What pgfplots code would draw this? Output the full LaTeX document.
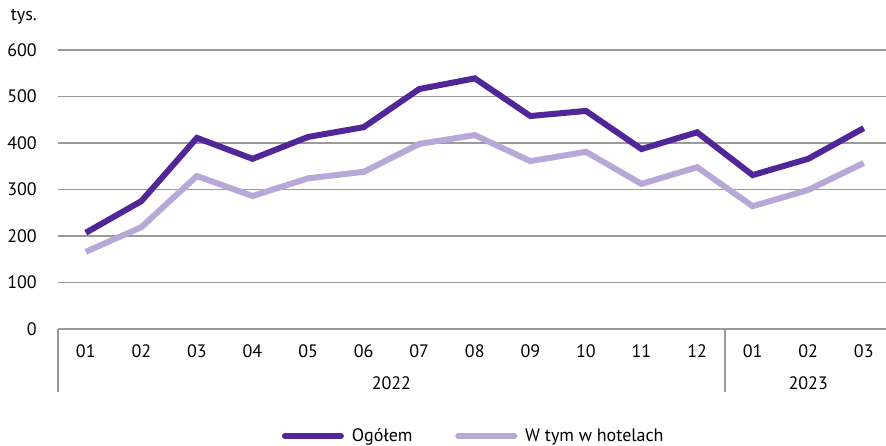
\documentclass[border=0pt]{standalone}
\usepackage{fontspec}
\setmainfont{PT Sans}
\usepackage{pgfplots}
\pgfplotsset{compat=1.18}
\definecolor{darkpurple}{HTML}{512699}
\definecolor{lightpurple}{HTML}{B9A7D7}
\definecolor{gridgray}{HTML}{9A9A9A}

\pgfplotstableread{
x ogolem hotele
0 207 166
1 275 219
2 411 329
3 366 286
4 413 324
5 434 338
6 516 398
7 539 417
8 458 361
9 469 381
10 387 312
11 423 348
12 331 264
13 366 299
14 432 357
}\dane

\begin{document}
\begin{tikzpicture}
\useasboundingbox (-43.5pt,-87.75pt) rectangle (621pt,246.75pt);
\begin{axis}[
    scale only axis,
    width=621pt,
    height=209.25pt,
    at={(0,0)}, anchor=south west,
    xmin=-0.5, xmax=14.4,
    ymin=0, ymax=600,
    ytick={0,100,...,600},
    xtick={0,...,14},
    xticklabels={01,02,03,04,05,06,07,08,09,10,11,12,01,02,03},
    major tick length=0pt,
    axis line style={draw=none},
    ymajorgrids,
    grid style={gridgray, line width=1.1pt},
    font=\fontsize{13.5}{15}\selectfont,
    /pgf/number format/assume math mode=true,
    yticklabel style={anchor=east, inner sep=0pt, xshift=-15.75pt},
    xticklabel style={anchor=center, inner sep=0pt, yshift=-16.5pt},
    clip=false,
    legend columns=2,
    legend style={at={(0.5025,-0.3835)}, anchor=center, draw=none, fill=none,
        font=\fontsize{13.5}{15}\selectfont,
        /tikz/every odd column/.append style={column sep=4pt},
        /tikz/every even column/.append style={column sep=30pt}},
    legend image code/.code={\draw[#1, line cap=round] (0pt,0pt) -- (42pt,0pt);},
]
\addplot[darkpurple, line width=4.5pt] table[x=x, y=ogolem] {\dane};
\addlegendentry{Ogółem}
\addplot[lightpurple, line width=4.5pt] table[x=x, y=hotele] {\dane};
\addlegendentry{W tym w hotelach}

\draw[gridgray, line width=1.1pt] (axis cs:-0.5,0) -- ++(0pt,-47.25pt);
\draw[gridgray, line width=1.1pt] (axis cs:11.5,0) -- ++(0pt,-47.25pt);
\node[anchor=center] at ([yshift=-40.5pt]axis cs:5.5,0) {2022};
\node[anchor=center] at ([yshift=-40.5pt]axis cs:13,0) {2023};
\node[anchor=east, inner sep=0pt] at ([xshift=-15.75pt, yshift=24.75pt]axis cs:-0.5,600) {tys.};
\end{axis}
\end{tikzpicture}
\end{document}
